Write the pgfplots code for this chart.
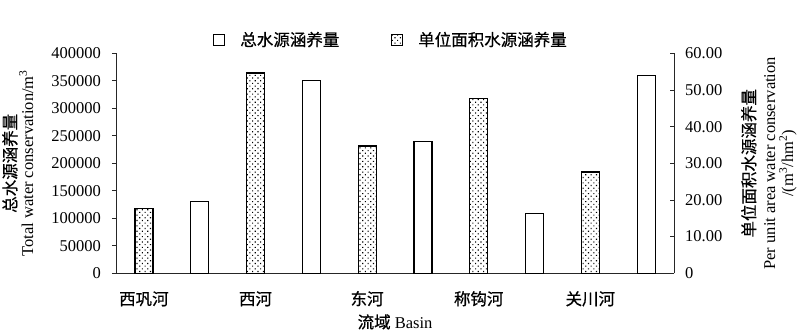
\documentclass[border=0pt]{standalone}
\usepackage{pgfplots}
\pgfplotsset{compat=1.18}
\usetikzlibrary{patterns.meta}
\usepackage{fontspec}
\setmainfont{Liberation Serif}
\newfontfamily\cjk[FakeBold=0.5]{Noto Sans CJK SC}
\begin{document}
\fontsize{16.5}{18}\selectfont
\begin{tikzpicture}
\useasboundingbox (0pt,0pt) rectangle (800pt,336pt);
\begin{axis}[
  at={(116pt,62.7pt)}, anchor=south west,
  scale only axis, width=558pt, height=220pt,
  xmin=-0.5, xmax=9.5, ymin=0, ymax=400000,
  axis y line*=left, axis x line*=bottom,
  axis line style={line width=0.9pt, black!85},
  xtick={0,2,4,6,8},
  xticklabels={{\cjk 西巩河},{\cjk 西河},{\cjk 东河},{\cjk 称钩河},{\cjk 关川河}},
  xtick style={draw=none},
  xticklabel style={anchor=base, yshift=-27.7pt},
  ytick={0,50000,100000,150000,200000,250000,300000,350000,400000},
  scaled y ticks=false,
  /pgf/number format/fixed, /pgf/number format/1000 sep={},
  /pgf/number format/assume math mode=true,
  yticklabel style={anchor=east, inner sep=0pt, xshift=-11pt},
  ytick style={line width=0.8pt, black!85},
  tick align=outside, major tick length=4pt,
  tick label style={font=\fontsize{16.5}{18}\selectfont},
  label style={font=\fontsize{16.5}{17}\selectfont},
  ylabel={{\cjk 总水源涵养量}\\Total water conservation/m\textsuperscript{3}},
  ylabel style={at={(axis description cs:-0.176,0.5)}, anchor=center, align=center},
  xlabel={{\cjk 流域} Basin},
  xlabel style={at={(axis description cs:0.5,-0.221)}, anchor=center},
]
\addplot[ybar, bar width=18pt, fill=white, draw=black, line width=1.2pt]
  coordinates {(1,130000) (3,350000) (5,239000) (7,109000) (9,359000)};
\end{axis}
\begin{axis}[
  at={(116pt,62.7pt)}, anchor=south west,
  scale only axis, width=558pt, height=220pt,
  xmin=-0.5, xmax=9.5, ymin=0, ymax=60,
  axis y line*=right, axis x line=none,
  axis line style={line width=0.9pt, black!85},
  ytick={0,10,20,30,40,50,60},
  yticklabels={0,10.00,20.00,30.00,40.00,50.00,60.00},
  yticklabel style={anchor=west, inner sep=0pt, xshift=11pt},
  ytick style={line width=0.8pt, black!85},
  tick align=inside, major tick length=4pt,
  tick label style={font=\fontsize{16.5}{18}\selectfont},
  label style={font=\fontsize{16.5}{17}\selectfont},
  ylabel={{\cjk 单位面积水源涵养量}\\[3pt]Per unit area water conservation\\[1pt]/(m\textsuperscript{3}/hm\textsuperscript{2})},
  ylabel style={at={(axis description cs:1.17,0.5)}, anchor=center, align=center},
  legend columns=2,
  legend style={draw=none, fill=none, at={(axis description cs:0.493,1.06)}, anchor=center,
    font=\fontsize{16.5}{18}\selectfont,
    /tikz/every odd column/.append style={column sep=13pt},
    /tikz/every even column/.append style={column sep=50pt}},
]
\addlegendimage{legend image code/.code={\draw[line width=0.9pt, fill=white] (0pt,-5.5pt) rectangle (11pt,5.5pt);}}
\addlegendentry{\cjk 总水源涵养量}
\addplot[ybar, bar width=18pt, draw=black, line width=1.2pt,
  pattern={Dots[distance=3.8pt, angle=45, radius=0.8pt]}, pattern color=black,
  legend image code/.code={\draw[line width=0.9pt, pattern={Dots[distance=3.8pt, angle=45, radius=0.8pt]}] (0pt,-5.5pt) rectangle (11pt,5.5pt);}]
  coordinates {(0,17.7) (2,54.6) (4,34.7) (6,47.6) (8,27.6)};
\addlegendentry{\cjk 单位面积水源涵养量}
\end{axis}
\end{tikzpicture}
\end{document}
